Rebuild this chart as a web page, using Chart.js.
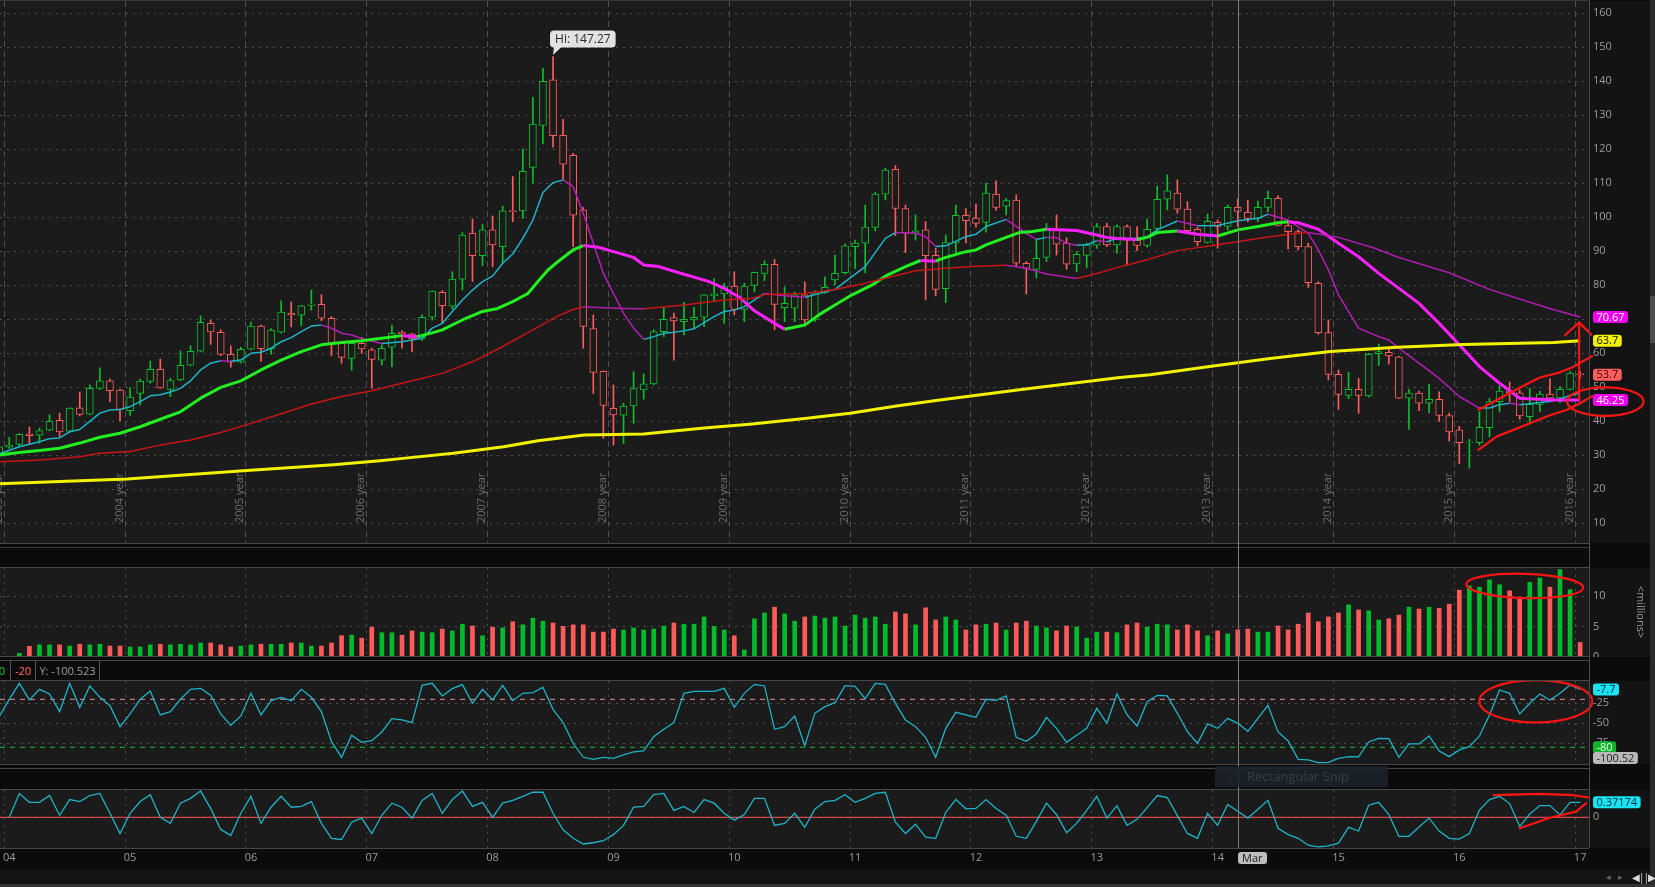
<!DOCTYPE html>
<html lang="en">
<head>
<meta charset="UTF-8">
<title>Monthly price chart</title>
<script src="https://cdn.jsdelivr.net/npm/chart.js"></script>
<style>
  * { box-sizing: border-box; }
  body { margin: 0; width: 1655px; height: 887px; overflow: hidden; position: relative;
         background: #0b0b0b; font-family: 'Open Sans', sans-serif; }
  canvas { position: absolute; left: 0; }
  .hl { position: absolute; left: 0; width: 1589px; height: 1px; background: #464646; }
  .leg { position: absolute; top: 661px; height: 19px; font-size: 11px; line-height: 19px;
         border-right: 1px solid #585858; text-align: center; }
  .abs { position: absolute; }
</style>
</head>
<body>
<canvas id="main" width="1655" height="542" style="top:1px"></canvas>
<canvas id="vol" width="1655" height="89" style="top:568px"></canvas>
<canvas id="wr" width="1655" height="83" style="top:681px"></canvas>
<canvas id="osc" width="1655" height="80" style="top:790px"></canvas>

<div class="hl" style="top:0;background:#3a3a3a"></div>
<div class="hl" style="top:543px"></div>
<div class="hl" style="top:547px;background:#3a3a3a"></div>
<div class="hl" style="top:567px"></div>
<div class="hl" style="top:656px"></div>
<div class="hl" style="top:660px"></div>
<div class="hl" style="top:680px"></div>
<div class="hl" style="top:764px"></div>
<div class="hl" style="top:768px"></div>
<div class="hl" style="top:789px"></div>
<div class="hl" style="top:848px"></div>
<div class="abs" style="left:1589px;top:0;width:1px;height:848px;background:#4a4a4a"></div>
<div class="abs" style="left:0;top:870px;width:1650px;height:14px;background:#141414"></div>
<div class="abs" style="left:0;top:884px;width:1655px;height:3px;background:#333"></div>
<div class="abs" style="left:1650px;top:0;width:5px;height:884px;background:#2a2a2a"></div>
<div class="abs" style="left:1650px;top:296px;width:5px;height:47px;background:#4c4c4c"></div>
<div class="abs" style="left:1606px;top:870px;font-size:9px;line-height:14px;color:#666">&#9666;&nbsp;&nbsp;&nbsp;&#9656;</div>
<div class="abs" style="left:1632px;top:870px;font-size:10px;line-height:14px;color:#ddd;letter-spacing:-1px">&#9664;||&#9654;</div>
<div class="abs" style="left:1612px;top:604px;font-size:11px;color:#9a9a9a;transform:rotate(90deg);transform-origin:29px 8px;width:58px;height:16px;text-align:center">&lt;millions&gt;</div>

<div class="leg" style="left:-12px;width:23px;text-align:right;padding-right:5px;color:#22c02c" id="legA"></div>
<div class="leg" style="left:11px;width:25px;color:#ff6a6a" id="legB"></div>
<div class="leg" style="left:36px;width:64px;color:#9a9a9a" id="legC"></div>

<div id="cursor" class="abs" style="top:0;width:1px;height:848px;background:#7c7c7c"></div>
<div id="cursorTag" class="abs" style="top:852px;height:12px;padding:0 4px;border-radius:3px;background:#bdbdbd;color:#222;font-size:11px;line-height:12px"></div>
<div class="abs" style="left:1215px;top:766px;width:173px;height:21px;background:rgba(27,35,43,0.88)">
  <span class="abs" style="left:7px;top:2px;font-size:10px;color:#1c1c1c">&#9679;</span>
  <span class="abs" style="left:32px;top:1px;font-size:13px;color:#3a4047">Rectangular Snip</span>
</div>

<script>
// ---- data (monthly bars, index 0 = Dec 2003 ... 157 = Jan 2017) ----
const open = [30.0,32.4,33.2,36.3,35.9,37.4,40.3,37.1,44.0,42.1, 49.7,51.9,49.2,43.1,48.2,51.7,55.3,49.4,52.2,56.5,
  60.6,68.8,66.2,59.7,57.4,61.2,68.0,61.4,66.2,71.8, 71.2,74.1,74.4,70.3,62.9,58.5,62.9,61.0,58.0,61.8,
  66.2,65.7,64.4,70.6,77.9,73.9,81.8,95.3,88.7,96.3, 91.4,102.0,101.9,114.7,127.0,140.4,124.1,118.2,102.2,67.3,
  54.7,43.8,41.8,44.5,49.2,51.0,66.4,70.5,69.3,69.8, 70.6,76.9,77.5,79.8,72.9,80.0,83.5,86.2,73.4,73.3,
  77.2,69.8,77.9,81.6,83.7,91.4,92.4,97.0,106.8,114.1, 102.6,95.3,96.3,88.8,79.0,92.5,100.6,99.8,98.5,106.8,
  103.3,105.1,86.5,84.7,88.2,96.5,92.4,86.3,88.8,91.8, 97.3,91.9,97.3,93.3,91.7,96.7,105.3,107.1,102.4,96.5,
  92.6,98.5,97.3,102.9,101.5,99.7,102.9,105.6,97.6,95.8, 91.4,80.6,66.1,53.8,47.6,49.4,47.5,59.9,60.3,59.0,
  46.8,48.3,45.3,46.5,41.7,37.5,33.8,33.7,38.1,45.8, 48.9,48.4,41.4,45.0,48.0,46.9,49.4,54.0];
const high = [33.0,35.3,36.4,38.3,38.0,41.9,42.4,44.0,48.6,50.7, 55.7,52.4,49.4,49.9,52.4,57.7,58.3,52.6,60.7,62.2,
  71.0,69.8,66.9,62.2,61.8,69.2,68.3,67.3,75.4,75.1, 74.1,78.6,77.2,70.8,63.0,63.4,64.7,61.5,62.5,68.3,
  66.6,65.9,71.3,78.4,78.4,84.0,95.5,99.5,97.9,100.4, 103.3,112.0,120.1,135.3,143.8,147.27,128.8,118.8,102.9,71.3,
  54.8,50.7,45.3,54.6,53.9,66.9,73.5,71.8,75.0,73.5, 77.3,82.0,80.6,84.0,80.6,83.9,87.2,87.6,79.5,78.0,
  81.0,78.4,82.5,88.9,92.1,93.3,103.6,107.3,114.4,115.2, 103.6,100.7,98.7,90.9,94.8,103.6,102.6,103.9,110.1,110.7,
  105.6,106.6,87.0,93.5,98.2,100.7,94.0,89.9,92.4,98.2, 98.2,97.8,97.8,97.3,99.5,109.2,112.5,111.0,104.6,97.0,
  101.0,99.2,103.6,105.4,105.1,104.8,107.7,106.3,99.0,96.3, 92.4,81.1,69.8,55.1,54.4,52.6,60.0,62.7,61.5,59.1,
  49.4,48.9,50.8,48.7,42.4,38.5,34.7,42.8,46.8,50.4, 51.6,49.2,49.7,48.8,52.5,50.2,54.6,54.6];
const low = [29.5,32.0,32.5,33.1,33.5,37.2,35.5,36.9,41.6,41.9, 49.4,45.8,40.2,41.7,44.8,51.2,49.7,47.3,52.0,56.3,
  60.4,62.6,59.3,55.9,57.1,61.0,57.6,59.7,65.9,67.8, 68.1,72.7,69.6,59.3,57.1,55.0,60.0,49.7,56.6,56.1,
  61.5,60.5,63.7,69.8,68.8,73.0,78.6,81.1,85.8,85.5, 86.5,98.7,99.7,110.2,121.6,120.6,111.2,91.4,61.5,48.2,
  35.0,33.0,33.5,39.4,46.5,50.7,64.9,58.0,65.4,67.4, 67.8,75.5,68.8,71.3,69.3,78.1,81.4,66.9,69.3,69.3,
  68.8,69.3,77.6,80.1,83.3,85.0,83.7,96.0,105.1,94.6, 89.6,93.3,75.7,76.9,74.9,89.4,92.5,97.1,95.6,102.0,
  100.7,85.5,77.4,82.1,87.0,88.9,84.7,84.0,85.2,90.9, 91.4,89.4,86.0,90.2,91.2,96.3,102.2,101.2,95.8,91.6,
  92.4,90.9,96.3,97.3,98.7,98.7,101.6,97.5,90.6,90.4, 79.4,65.6,52.2,43.5,46.7,42.4,47.1,56.4,56.8,46.7,
  37.6,43.1,42.5,40.0,34.2,27.6,26.2,33.0,35.4,42.8, 45.8,40.6,39.2,42.8,46.3,45.5,49.2,52.8];
const close = [32.5,33.0,36.2,35.8,37.3,40.0,36.9,43.9,42.0,49.7, 51.9,49.0,43.5,47.1,51.8,55.3,49.8,52.0,56.5,60.6,
  69.1,66.3,59.7,57.4,61.2,68.0,61.4,66.8,72.1,71.3, 74.0,74.5,70.3,62.9,58.8,62.9,61.3,58.2,61.5,65.9,
  65.7,64.2,70.6,78.3,74.0,81.8,94.8,88.7,96.3,91.9, 101.9,101.6,113.5,127.4,140.0,124.0,115.6,100.6,67.9,54.4,
  44.7,41.9,44.5,49.6,51.0,66.4,70.0,69.5,70.0,70.6, 77.2,77.5,79.6,72.9,79.8,83.8,86.2,74.4,74.7,77.2,
  69.8,77.8,79.4,83.5,91.6,92.4,97.1,106.8,113.9,102.6, 95.3,96.0,88.7,78.8,92.6,100.6,99.0,98.2,107.1,102.9,
  104.9,86.5,85.0,87.9,96.5,92.1,86.2,89.1,91.9,97.3, 91.9,97.3,93.3,91.7,96.5,105.3,107.8,102.4,96.1,92.8,
  98.8,97.3,102.9,101.7,99.7,102.9,105.6,97.6,95.8,91.4, 80.8,66.1,53.8,47.9,49.4,47.6,59.7,60.5,59.2,46.8,
  48.3,45.3,46.5,41.7,36.9,33.7,34.0,38.2,45.8,48.9, 48.4,41.6,45.0,48.0,46.8,49.4,54.2,53.7];
// volume, millions
const volume = [null,null,0.6,1.76,2.0,2.0,2.0,1.8,2.1,2.0, 2.1,1.8,1.8,1.65,1.65,2.0,2.1,2.0,2.1,2.0,
  2.3,2.3,2.0,1.65,1.8,2.0,2.1,2.1,2.1,2.3, 2.3,1.8,1.8,2.3,3.5,3.6,3.1,4.9,4.0,4.0,
  3.6,4.3,4.1,4.0,4.6,4.3,5.4,5.1,3.5,4.9, 4.8,5.8,5.3,6.4,5.9,5.6,5.05,5.3,5.3,4.1,
  4.1,4.6,4.45,4.8,4.45,4.6,5.1,5.6,5.4,5.4, 6.6,5.05,4.45,3.5,1.15,6.3,7.25,8.2,7.1,5.9,
  6.6,6.75,6.4,6.6,5.1,6.9,6.4,6.6,5.4,7.4, 7.1,5.3,8.1,6.1,6.6,6.1,4.45,5.3,5.4,5.6,
  4.45,5.6,5.9,5.1,4.8,4.3,5.1,4.95,3.1,4.1, 4.1,4.0,5.3,5.6,4.95,5.4,5.3,4.45,5.3,4.3,
  3.5,4.3,3.8,4.45,4.6,4.1,4.1,5.1,4.45,5.4, 7.25,5.8,6.6,7.25,8.6,7.75,7.6,6.1,6.3,6.9,
  8.2,7.9,8.2,8.0,8.7,11.0,11.7,11.5,12.7,11.9, 10.9,9.7,12.3,13.0,11.5,14.4,11.1,2.4];
// Williams %R
const wr = [-41.7,-20,0,-20.8,-7.5,-13.3,-35.4,0,-30,-3.3, -17.5,-27.9,-54.2,-38.3,-20,-9.6,-39.6,-35.4,-20,-7.5,
  -6.3,-15,-38.3,-52.5,-40.8,-12.5,-39.6,-21.7,-17.5,-21.7, -7.5,-17.5,-35.4,-72.9,-92.5,-65,-73.8,-71.7,-60.8,-44.2,
  -45.8,-49.2,-2.5,0,-15.8,-6.7,-1.7,-25,-7.5,-20.8, -2.5,-21.7,-12.5,-11.7,-5,-32.5,-49.2,-75,-92.5,-95,
  -92.5,-93.8,-89.6,-85.8,-84.6,-66.7,-57.5,-49.2,-12.5,-10, -10,-10,-6.3,-30,-12.5,-1.3,-3.3,-57.5,-54.2,-40.8,
  -77.9,-37.5,-29.2,-24.2,-2.9,-3.8,-19.2,0,-1.3,-25, -45.8,-54.2,-67.5,-92.5,-56.3,-36.3,-39.6,-42.5,-20,-21.3,
  -15.8,-67.5,-72.5,-63.3,-42.5,-56.3,-73.8,-65,-56.3,-31.3, -50,-13.3,-39.2,-53.3,-23.3,-15,-15.8,-37.5,-60.4,-75,
  -50.8,-56.3,-43.8,-50,-60,-43.8,-27.5,-60.8,-72.1,-95, -95.8,-99.2,-98.8,-93.8,-91.7,-92.1,-73.3,-68.8,-69.2,-92.5,
  -75.8,-75.8,-65.8,-84.6,-91.7,-83.3,-79.2,-65.8,-39.6,-8.3, -12.5,-38.3,-25,-13.3,-20.8,-12.5,-2.1,-7.7];
// lower oscillator
const osc = [null,0,0.59,0.37,0.37,0.54,0.05,0.44,0.39,0.54, 0.59,0.1,-0.40,0.1,0.39,0.56,0,-0.15,0.35,0.47,
  0.65,0.22,-0.30,-0.45,0.1,0.52,-0.15,0.25,0.52,0.25, 0.27,0.39,-0.15,-0.52,-0.55,-0.12,-0.02,-0.40,0.05,0.35,
  0.25,-0.02,0.42,0.59,0.1,0.44,0.65,0.27,0.37,0, 0.35,0.42,0.52,0.62,0.62,0.1,-0.31,-0.52,-0.66,-0.63,
  -0.58,-0.43,-0.2,0.25,0.27,0.56,0.59,0.17,0.27,0.12, 0.44,0.35,0.1,-0.07,0.07,0.47,0.47,-0.2,-0.15,0.1,
  -0.25,0.2,0.39,0.42,0.56,0.37,0.47,0.59,0.62,-0.12, -0.40,-0.17,-0.49,-0.52,0.12,0.44,0.21,0.22,0.44,0.22,
  0.05,-0.47,-0.52,-0.1,0.35,0.07,-0.38,-0.15,0.17,0.52, -0.02,0.29,-0.2,-0.05,0.24,0.54,0.49,0.04,-0.40,-0.52,
  0.1,-0.2,0.32,0.15,-0.02,0.2,0.42,-0.27,-0.43,-0.52, -0.69,-0.73,-0.71,-0.64,-0.25,-0.34,0.3,0.37,0.07,-0.47,
  -0.47,-0.24,-0.02,-0.34,-0.52,-0.54,-0.4,0.18,0.44,0.52, 0.34,-0.23,0.08,0.29,0.29,0.06,0.37,0.37174];

// moving averages as [bar index, value]
const maFast = [[0,30.4],[2,32.5],[4,34.0],[5,34.9],[6,35.1],[7,36.9],[8,37.6],[9,40.0],[10,42.4],[11,43.3],[12,43.5],
  [13,44.3],[14,45.8],[15,47.5],[16,47.8],[17,48.6],[18,49.7],[19,51.9],[20,55.1],[21,57.1],[22,57.8],[23,57.7],
  [24,58.0],[25,60.0],[26,60.3],[27,61.5],[28,63.4],[29,64.6],[30,66.4],[31,68.0],[32,68.3],[33,67.4],[34,65.9],
  [35,65.4],[36,64.4],[37,63.6],[38,62.9],[40,63.4],[42,64.4],[43,67.4],[44,68.8],[45,72.3],[46,75.7],[47,78.6],
  [48,81.1],[49,82.7],[50,86.5],[51,89.2],[52,93.8],[53,99.2],[54,107.3],[55,110.2],[56,111.0],[57,109.0],
  [58,101.2],[59,92.4],[60,83.5],[61,77.6],[62,71.8],[63,67.4],[64,64.1],[65,64.9],[66,65.9],[67,66.2],[68,66.6],
  [69,67.2],[70,69.0],[71,70.8],[72,72.3],[73,72.7],[74,73.7],[76,77.6],[78,76.9],[80,76.5],[83,78.8],[86,85.5],
  [88,93.8],[89,95.5],[91,95.3],[92,94.3],[93,91.4],[94,91.6],[96,94.3],[97,95.0],[98,97.3],[100,99.4],[102,95.3],
  [103,93.5],[104,94.1],[105,94.0],[106,92.4],[107,91.8],[108,91.9],[109,93.1],[110,92.8],[111,93.8],[113,93.8],
  [114,94.3],[115,96.3],[117,98.9],[119,97.5],[121,97.6],[123,99.0],[125,99.7],[126,100.9],[128,99.2],[130,95.3],
  [131,90.4],[132,84.5],[133,77.2],[135,67.4],[137,64.9],[138,63.9],[139,61.5],[141,57.1],[143,52.6],[145,47.3],
  [147,43.9],[148,43.9],[149,44.9],[150,45.3],[151,44.9],[152,45.2],[153,45.5],[154,45.8],[155,46.6],[156,47.6],[157,48.3]];
const maMid = [[0,30.1],[2,30.8],[4,31.4],[6,32.1],[8,33.6],[10,35.3],[12,36.5],[14,38.4],[16,40.6],[18,42.8],
  [20,46.8],[22,50.0],[24,51.9],[26,55.1],[28,58.0],[30,60.5],[32,62.5],[34,63.2],[36,63.7],[38,64.4],[40,65.2],
  [41.5,64.9],[43,66.0],[44,66.9],[46,69.8],[48,72.3],[49.5,73.2],[51,75.2],[52.5,77.6],[53.5,81.1],[54.5,84.5],
  [55.5,87.0],[57,90.4],[58,91.7],[59.5,91.2],[61,89.9],[63,88.2],[64,86.0],[65.5,85.5],[67.5,83.7],[69,82.4],
  [70.5,81.1],[72,79.1],[73.5,76.5],[75,72.5],[77,68.8],[78,67.1],[80,68.3],[81.4,71.3],[83,74.2],[84.7,77.2],
  [86.7,80.1],[88,82.7],[90,85.5],[91.5,87.3],[93,87.1],[94,88.2],[96,89.9],[97,90.4],[98,91.9],[100,94.1],
  [101.3,95.5],[102.6,95.8],[104,96.5],[107,96.1],[109,94.8],[110,94.1],[111,93.8],[113,93.5],[114,94.1],
  [115,95.5],[117,96.0],[119,95.0],[121,94.5],[123,96.3],[125,97.3],[127,98.4],[128,98.7],[129,98.4],[131,96.5],
  [133,92.4],[135,88.4],[137,83.5],[139,79.1],[141,74.7],[143,68.8],[145,62.5],[147,56.1],[149,51.2],[151,46.8],
  [152,46.6],[154.4,46.3],[157,46.25]];
const maSlow = [[0,28.1],[4,28.6],[8,29.6],[10,30.6],[13,31.1],[16,33.0],[19,34.5],[22,36.7],[25,39.4],[28,42.2],
  [31,45.1],[34,47.3],[37,49.0],[40,51.2],[44,54.1],[47,57.5],[50,62.0],[53,66.9],[55.5,71.0],[57,72.9],[58,73.7],
  [60,73.4],[62,73.2],[64,73.1],[68,74.2],[72,75.7],[74.8,76.2],[76,77.3],[80,77.6],[83,78.8],[86,80.6],[88,82.1],
  [91,84.3],[94,85.0],[96.6,85.5],[100,85.9],[102,85.0],[104,83.3],[107,82.0],[109,83.5],[111,85.2],[114,87.5],
  [117,90.2],[121,91.9],[125,93.8],[128,95.0],[130,95.5],[133,94.1],[136.6,90.9],[139,88.2],[144,83.7],[148,78.8],
  [152,75.0],[154.4,72.8],[157,70.67]];
const maLong = [[0,21.6],[12.7,23.0],[24.6,25.5],[33.2,27.2],[37.8,28.4],[40.1,29.1],[45.1,30.6],[50.1,32.5],
  [53.5,34.3],[58.1,36.0],[64,36.3],[70,38.0],[74.8,39.2],[80.2,40.9],[84.5,42.4],[89.1,44.5],[93.4,46.3],
  [96.7,47.5],[101.7,49.4],[106.6,51.2],[111.3,52.9],[114.3,53.7],[120.2,56.1],[126.2,58.5],[132.2,60.5],
  [138.8,61.8],[145.4,62.6],[154.4,63.2],[157,63.7]];

// axes
const yearLines = [0.5,12.5,24.5,36.5,48.5,60.5,72.5,84.5,96.5,108.5,120.5,132.5,144.5,156.5];
const yearTags = ['2003 year','2004 year','2005 year','2006 year','2007 year','2008 year','2009 year',
  '2010 year','2011 year','2012 year','2013 year','2014 year','2015 year','2016 year'];
const yearLabelIdx = [1,13,25,37,49,61,73,85,97,109,121,133,145,157];
const yearLabels = ['04','05','06','07','08','09','10','11','12','13','14','15','16','17'];
const priceTicks = [10,20,30,40,50,60,70,80,90,100,110,120,130,140,150,160];
const volTicks = [0,5,10];
const wrTicks = [-75,-50,-25];
const oscTicks = [0];
const wrUpper = -20, wrLower = -80, wrTop = 0;
const cursorIdx = 123, cursorTag = 'Mar', cursorY = -100.523;

// hand drawn marks, in bar index / value units
const channelUpper = [[146.9,43.4],[150.9,49.7],[153.0,52.9],[155.0,54.4],[156.3,56.0],[158.2,59.2]];
const channelLower = [[146.9,31.6],[148.7,35.5],[151.4,38.7],[154.0,41.8],[155.7,43.4],[157.0,45.3],[158.2,47.4]];
const arrowShaft = [[156.9,46.4],[156.9,69.1]];
const arrowHead = [[155.5,65.3],[156.9,69.1],[158.1,65.5]];
const priceRing = [159.5,45.8,3.8,4.2];
const volRing = [151.5,11.7,5.8,2.0];
const wrRing = [152.6,-22.5,5.6,26.5];
const oscUpper = [[148.4,0.55],[153.0,0.58],[156.3,0.55],[157.8,0.49]];
const oscLower = [[151.0,-0.27],[154.0,-0.01],[156.6,0.14],[157.6,0.35]];

// ---- look ----
const X_MIN = 0.08, X_MAX = 157.88, AXIS_W = 66;
const GRID = '#4e4e4e', TXT = '#9c9c9c', PLOT_BG = '#1b1b1b', AXIS_BG = '#131313';
const GREEN = '#0cbf2c', RED = '#ff5c5c', MARK = '#ff1414';
Chart.defaults.font.family = "'Open Sans', sans-serif";
Chart.defaults.font.size = 11;

const pts = arr => arr.map((v, i) => ({ x: i, y: v }));
const pairs = arr => arr.map(([x, y]) => ({ x, y }));
const isUp = i => close[i] >= open[i];
const last = arr => arr[arr.length - 1];

function gridX(dash) {
  return {
    type: 'linear', min: X_MIN, max: X_MAX, offset: false,
    grid: { color: GRID, drawTicks: false, offset: false },
    border: { display: false, dash },
    ticks: { display: false },
    afterBuildTicks: s => { s.ticks = yearLines.map(v => ({ value: v })); },
    afterFit: s => { s.height = 0; s.paddingLeft = 0; s.paddingRight = 0; }
  };
}
function rightY(min, max, ticks) {
  return {
    position: 'right', min, max,
    grid: { color: GRID, drawTicks: false },
    border: { display: false, dash: [2, 5] },
    ticks: { color: TXT, padding: 4 },
    afterBuildTicks: s => { s.ticks = ticks.map(v => ({ value: v })); },
    afterFit: s => { s.width = AXIS_W; s.paddingTop = 0; s.paddingBottom = 0; }
  };
}
function baseOpts(scales) {
  return {
    responsive: false, animation: false, events: [],
    layout: { padding: 0 },
    plugins: { legend: { display: false }, tooltip: { enabled: false } },
    scales
  };
}
function bg(labelStrip) {
  return {
    id: 'bg',
    beforeDraw(chart) {
      const { ctx, chartArea: a, width, height } = chart;
      ctx.save();
      ctx.fillStyle = AXIS_BG;
      ctx.fillRect(0, 0, width, height);
      if (labelStrip) { ctx.fillStyle = '#0b0b0b'; ctx.fillRect(0, a.bottom, width, height - a.bottom); }
      ctx.fillStyle = PLOT_BG;
      ctx.fillRect(a.left, a.top, a.right - a.left, a.bottom - a.top);
      ctx.restore();
    }
  };
}
function valueBox(chart, value, text, fill, ink) {
  const { ctx, chartArea: a } = chart;
  const h = 12;
  ctx.save();
  ctx.font = "11px 'Open Sans'";
  const w = ctx.measureText(text).width + 7;
  let y = chart.scales.y.getPixelForValue(value);
  y = Math.min(Math.max(y, a.top + h / 2), a.bottom - h / 2);
  ctx.fillStyle = fill;
  ctx.beginPath(); ctx.roundRect(a.right + 4, y - h / 2, w, h, 3); ctx.fill();
  ctx.fillStyle = ink; ctx.textBaseline = 'middle'; ctx.textAlign = 'left';
  ctx.fillText(text, a.right + 7.5, y + 0.5);
  ctx.restore();
}
function markPath(chart, path) {
  const { ctx, scales: { x, y } } = chart;
  ctx.beginPath();
  path.forEach(([a, b], k) => {
    const px = x.getPixelForValue(a), py = y.getPixelForValue(b);
    k ? ctx.lineTo(px, py) : ctx.moveTo(px, py);
  });
  ctx.stroke();
}
function markRing(chart, [cx, cy, rx, ry], tilt) {
  const { ctx, scales: { x, y } } = chart;
  const px = x.getPixelForValue(cx), py = y.getPixelForValue(cy);
  ctx.beginPath();
  ctx.ellipse(px, py, Math.abs(x.getPixelForValue(cx + rx) - px), Math.abs(y.getPixelForValue(cy + ry) - py), tilt, 0, Math.PI * 2);
  ctx.stroke();
}
function pen(ctx) {
  ctx.strokeStyle = MARK; ctx.lineWidth = 2.2; ctx.lineCap = 'round'; ctx.lineJoin = 'round';
}
function maLine(points, rise, fall, width) {
  return {
    type: 'line', data: pairs(points), borderColor: rise, borderWidth: width,
    pointRadius: 0, tension: 0, order: 0, borderJoinStyle: 'round',
    segment: { borderColor: c => (c.p1.parsed.y < c.p0.parsed.y ? fall : rise) }
  };
}

// ---- price panel ----
const mainDecor = {
  id: 'mainDecor',
  beforeDatasetsDraw(chart) {
    const { ctx, chartArea: a, scales: { x } } = chart;
    ctx.save();
    ctx.fillStyle = '#6c6c6c';
    ctx.font = "11px 'Open Sans'";
    ctx.textAlign = 'left'; ctx.textBaseline = 'alphabetic';
    yearLines.forEach((v, k) => {
      ctx.save();
      ctx.translate(x.getPixelForValue(v) - 2.5, a.bottom - 20);
      ctx.rotate(-Math.PI / 2);
      ctx.fillText(yearTags[k], 0, 0);
      ctx.restore();
    });
    ctx.restore();
  },
  afterDraw(chart) {
    const { ctx, scales: { x, y } } = chart;
    // high bubble
    const hiVal = Math.max(...high), hiIdx = high.indexOf(hiVal);
    const ax = x.getPixelForValue(hiIdx), ay = y.getPixelForValue(hiVal);
    const label = 'Hi: ' + hiVal.toFixed(2);
    ctx.save();
    ctx.font = "12px 'Open Sans'";
    const w = ctx.measureText(label).width + 10, h = 17, bx = ax - 3, by = ay - 26;
    ctx.fillStyle = '#e2e2e2';
    ctx.beginPath(); ctx.roundRect(bx, by, w, h, 4); ctx.fill();
    ctx.beginPath(); ctx.moveTo(ax + 1, by + h - 1); ctx.lineTo(ax + 9, by + h - 1); ctx.lineTo(ax, ay - 1.5); ctx.closePath(); ctx.fill();
    ctx.fillStyle = '#2b2b2b'; ctx.textAlign = 'center'; ctx.textBaseline = 'middle';
    ctx.fillText(label, bx + w / 2, by + h / 2 + 0.5);
    ctx.restore();
    // last-value boxes
    valueBox(chart, last(maSlow)[1], String(last(maSlow)[1]), '#f000f0', '#ffffff');
    valueBox(chart, last(maLong)[1], String(last(maLong)[1]), '#f2f200', '#111111');
    valueBox(chart, last(close), String(last(close)), '#ff5f5f', '#3a0000');
    valueBox(chart, last(maMid)[1], String(last(maMid)[1]), '#f000f0', '#ffffff');
    // hand drawn marks
    ctx.save(); pen(ctx);
    markPath(chart, channelUpper); markPath(chart, channelLower);
    markPath(chart, arrowShaft); markPath(chart, arrowHead);
    markRing(chart, priceRing, 0);
    ctx.restore();
  }
};

const mainChart = new Chart(document.getElementById('main'), {
  type: 'bar',
  data: { datasets: [
    maLine(maLong, '#f2f200', '#f2f200', 3),
    maLine(maSlow, '#c81414', '#b01cb0', 1.5),
    maLine(maMid, '#22ee22', '#ff1fff', 3),
    maLine(maFast, '#1fb4c7', '#b81cb8', 1.5),
    { type: 'bar', order: 1, grouped: false, barThickness: 7, borderWidth: 1, borderSkipped: false,
      data: open.map((o, i) => ({ x: i, y: [o, close[i]] })),
      backgroundColor: PLOT_BG, borderColor: c => (isUp(c.dataIndex) ? GREEN : RED) },
    { type: 'bar', order: 2, grouped: false, barThickness: 1, borderWidth: 0,
      data: low.map((l, i) => ({ x: i, y: [l, high[i]] })),
      backgroundColor: c => (isUp(c.dataIndex) ? GREEN : RED) }
  ] },
  options: baseOpts({ x: gridX([6, 4]), y: rightY(4.21, 163.62, priceTicks) }),
  plugins: [bg(false), mainDecor]
});

// ---- volume panel ----
new Chart(document.getElementById('vol'), {
  type: 'bar',
  data: { datasets: [{
    data: pts(volume), grouped: false, barThickness: 4, borderWidth: 0,
    backgroundColor: c => (isUp(c.dataIndex) ? '#00bb2b' : '#ff5a5a')
  }] },
  options: baseOpts({ x: gridX([2, 5]), y: rightY(0, 14.66, volTicks) }),
  plugins: [bg(false), { id: 'volDecor', afterDraw(chart) {
    chart.ctx.save(); pen(chart.ctx); markRing(chart, volRing, 0.03); chart.ctx.restore();
  } }]
});

// ---- Williams %R panel ----
const flat = v => [{ x: X_MIN, y: v }, { x: X_MAX, y: v }];
new Chart(document.getElementById('wr'), {
  type: 'line',
  data: { datasets: [
    { data: pts(wr), borderColor: '#1fb4c7', borderWidth: 1.3, pointRadius: 0, tension: 0, order: 0 },
    { data: flat(wrUpper), borderColor: '#f08a9a', borderWidth: 1, borderDash: [5, 5], pointRadius: 0, order: 1 },
    { data: flat(wrLower), borderColor: '#1cb53a', borderWidth: 1, borderDash: [5, 5], pointRadius: 0, order: 1 }
  ] },
  options: baseOpts({ x: gridX([2, 5]), y: rightY(-100.9, 2.9, wrTicks) }),
  plugins: [bg(false), { id: 'wrDecor', afterDraw(chart) {
    valueBox(chart, last(wr), String(last(wr)), '#18e4f4', '#06283a');
    valueBox(chart, wrLower, String(wrLower), '#10b32e', '#eaffea');
    valueBox(chart, cursorY, cursorY.toFixed(2), '#b9b9b9', '#1e1e1e');
    chart.ctx.save(); pen(chart.ctx); markRing(chart, wrRing, 0); chart.ctx.restore();
  } }]
});

// ---- lower oscillator panel ----
new Chart(document.getElementById('osc'), {
  type: 'line',
  data: { datasets: [
    { data: pts(osc), borderColor: '#1fb4c7', borderWidth: 1.3, pointRadius: 0, tension: 0, order: 0 },
    { data: flat(0), borderColor: '#ff5252', borderWidth: 1, pointRadius: 0, order: 1 }
  ] },
  options: baseOpts({
    x: gridX([2, 5]),
    xl: {
      type: 'linear', min: X_MIN, max: X_MAX, position: 'bottom', offset: false,
      grid: { display: false, drawTicks: false }, border: { display: false },
      afterBuildTicks: s => { s.ticks = yearLabelIdx.map(v => ({ value: v })); },
      ticks: { color: TXT, padding: 3, maxRotation: 0, autoSkip: false, callback: (v, i) => yearLabels[i] },
      afterFit: s => { s.height = 22; s.paddingLeft = 0; s.paddingRight = 0; }
    },
    y: rightY(-0.76, 0.676, oscTicks)
  }),
  plugins: [bg(true), { id: 'oscDecor', afterDraw(chart) {
    valueBox(chart, last(osc), String(last(osc)), '#18e4f4', '#06283a');
    chart.ctx.save(); pen(chart.ctx); markPath(chart, oscUpper); markPath(chart, oscLower); chart.ctx.restore();
  } }]
});

// ---- crosshair and study legend ----
const cx = Math.round(mainChart.scales.x.getPixelForValue(cursorIdx));
document.getElementById('cursor').style.left = cx + 'px';
const tag = document.getElementById('cursorTag');
tag.style.left = cx + 'px';
tag.textContent = cursorTag;
document.getElementById('legA').textContent = String(wrTop);
document.getElementById('legB').textContent = String(wrUpper);
document.getElementById('legC').textContent = 'Y: ' + cursorY.toFixed(3);
</script>
</body>
</html>
